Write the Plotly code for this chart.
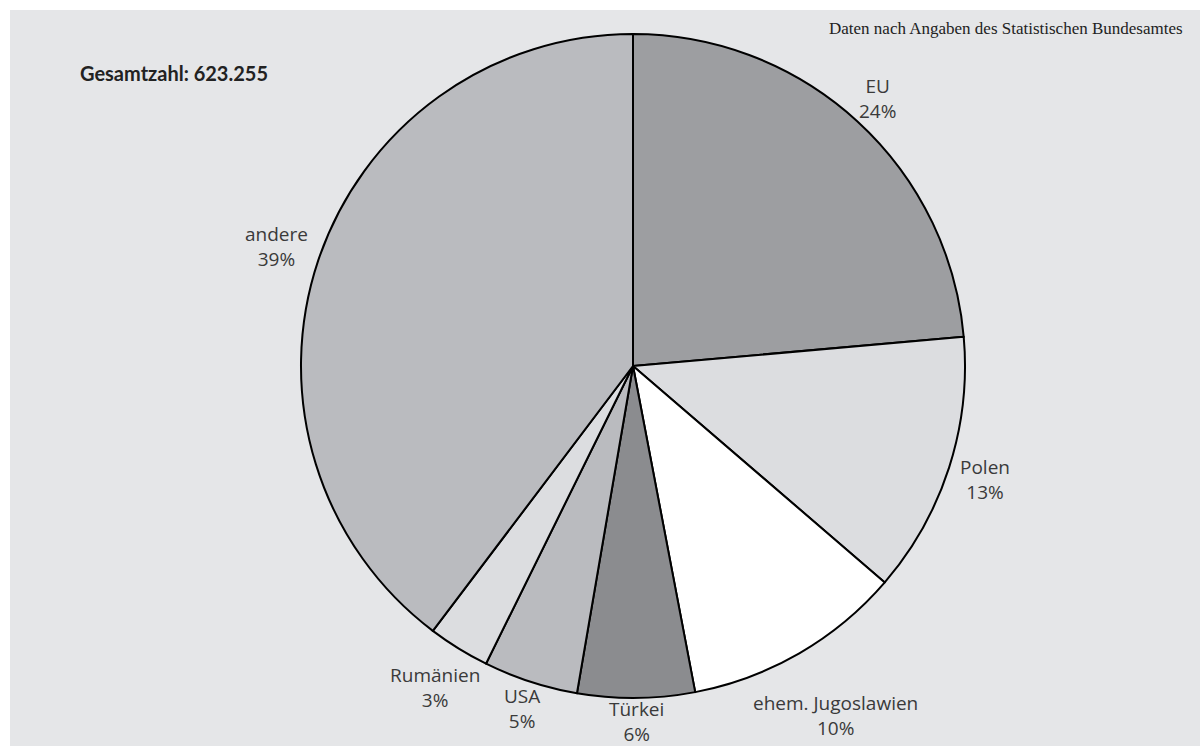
import math
import plotly.graph_objects as go

# ---- data ----
categories = ["EU", "Polen", "ehem. Jugoslawien", "Türkei", "USA", "Rumänien", "andere"]
shares = [23.6, 12.7, 10.7, 5.7, 4.6, 3.0, 39.7]
share_labels = ["24%", "13%", "10%", "6%", "5%", "3%", "39%"]
slice_colors = ["#9d9ea1", "#dcdde0", "#ffffff", "#8b8c8f", "#babbbf", "#dcdde0", "#babbbf"]
total_label = "Gesamtzahl: 623.255"
source_label = "Daten nach Angaben des Statistischen Bundesamtes"

W, H = 1200, 746
CX, CY, R = 633, 366, 332
FONT = "'Open Sans', Lato, sans-serif"

fig = go.Figure()
fig.add_trace(go.Pie(
    labels=categories,
    values=shares,
    sort=False,
    direction="clockwise",
    rotation=0,
    marker=dict(colors=slice_colors, line=dict(color="#000000", width=2)),
    textinfo="none",
    hoverinfo="label+percent",
    showlegend=False,
    domain=dict(x=[(CX - R) / W, (CX + R) / W], y=[1 - (CY + R) / H, 1 - (CY - R) / H]),
))

# label annotations derived from the slice mid-angles
total = sum(shares)
cum = 0.0
annotations = []
for name, v, lab in zip(categories, shares, share_labels):
    mid = (cum + v / 2) / total * 2 * math.pi
    cum += v
    s, c = math.sin(mid), math.cos(mid)
    half_w = max(len(name), len(lab)) * 5.3
    half_h = 20
    dist = R + 3 + half_w * abs(s) * 1.15 + half_h * abs(c)
    px = CX + dist * s
    py = CY - dist * c
    annotations.append(dict(
        x=px / W, y=1 - py / H, xref="paper", yref="paper",
        text=f"{name}<br>{lab}", showarrow=False,
        xanchor="center", yanchor="middle", align="center",
        font=dict(family=FONT, size=19, color="#3a3a3a"),
    ))

annotations.append(dict(
    x=78 / W, y=1 - 73 / H, xref="paper", yref="paper", text=f"<b>{total_label}</b>",
    showarrow=False, xanchor="left", yanchor="middle",
    font=dict(family="Lato, 'Open Sans', sans-serif", size=20, color="#222222"),
))
annotations.append(dict(
    x=1185 / W, y=1 - 28 / H, xref="paper", yref="paper", text=source_label,
    showarrow=False, xanchor="right", yanchor="middle",
    font=dict(family="'Liberation Serif', 'DejaVu Serif', serif", size=17, color="#222222"),
))

fig.update_layout(
    width=W, height=H,
    margin=dict(l=0, r=0, t=0, b=0),
    paper_bgcolor="#ffffff",
    plot_bgcolor="#ffffff",
    shapes=[dict(type="rect", xref="paper", yref="paper",
                 x0=10 / W, x1=1, y0=0, y1=1 - 10 / H,
                 fillcolor="#e5e6e8", line=dict(width=0), layer="below")],
    annotations=annotations,
)

fig.write_html("out.html")
